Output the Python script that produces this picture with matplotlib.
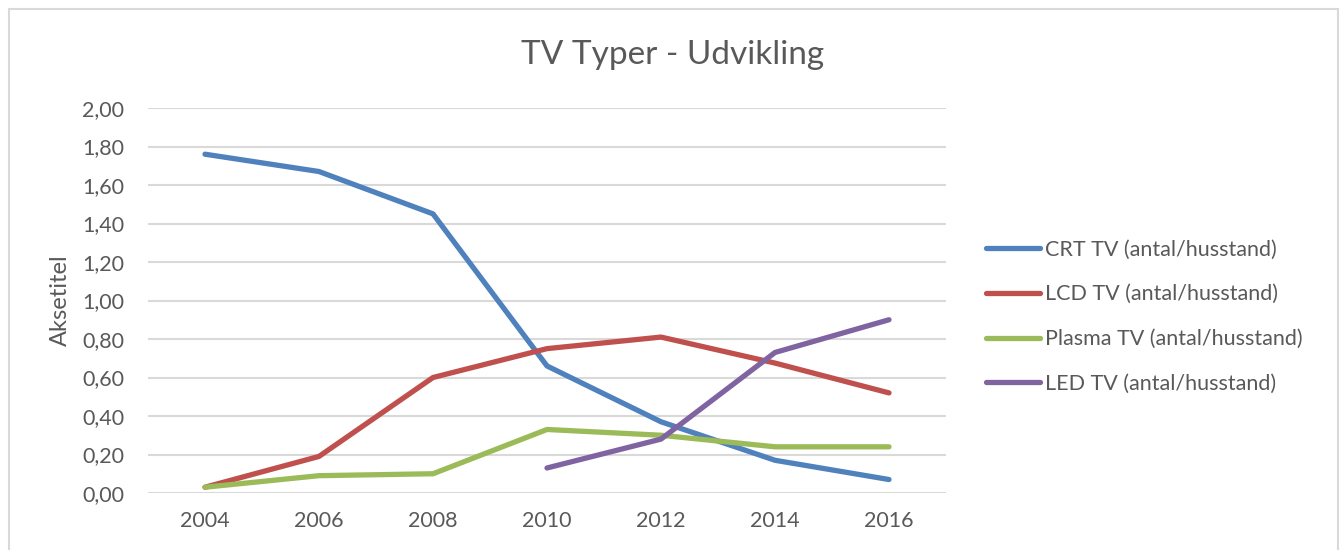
import matplotlib
matplotlib.use("Agg")
import matplotlib.pyplot as plt
from matplotlib.patches import Rectangle
import numpy as np

years = ["2004", "2006", "2008", "2010", "2012", "2014", "2016"]
crt = [1.76, 1.67, 1.45, 0.66, 0.37, 0.17, 0.07]
lcd = [0.03, 0.19, 0.60, 0.75, 0.81, 0.675, 0.52]
plasma = [0.03, 0.09, 0.10, 0.33, 0.30, 0.24, 0.24]
led = [np.nan, np.nan, np.nan, 0.13, 0.28, 0.73, 0.90]
series_names = ["CRT TV (antal/husstand)", "LCD TV (antal/husstand)",
                "Plasma TV (antal/husstand)", "LED TV (antal/husstand)"]
colors = ["#4F81BD", "#C0504D", "#9BBB59", "#8064A2"]
yticks = [0.0, 0.2, 0.4, 0.6, 0.8, 1.0, 1.2, 1.4, 1.6, 1.8, 2.0]

plt.rcParams['font.family'] = ['Lato', 'DejaVu Sans']
txt = "#595959"

fig = plt.figure(figsize=(13.4, 5.5), dpi=100)
# chart border
fig.patches.append(Rectangle((9/1340, -0.05), (1338-9)/1340, 1.05 - 9/550,
                             transform=fig.transFigure, fill=False,
                             edgecolor="#D9D9D9", linewidth=1.5))
ax = fig.add_axes([148/1340, 57/550, (946-148)/1340, (493-108)/550])

x = np.arange(len(years))
for vals, name, c in zip([crt, lcd, plasma, led], series_names, colors):
    ax.plot(x, vals, color=c, linewidth=3.8, label=name,
            solid_capstyle='round', solid_joinstyle='round')

ax.set_xlim(-0.5, len(years) - 0.5)
ax.set_ylim(0, 2.0)
ax.set_yticks(yticks)
ax.set_yticklabels([f"{v:.2f}".replace(".", ",") for v in yticks])
ax.set_xticks(x)
ax.set_xticklabels(years)
ax.tick_params(axis='both', length=0, labelsize=15.5, colors=txt)
ax.tick_params(axis='y', pad=17)
ax.tick_params(axis='x', pad=13)
ax.grid(axis='y', color="#D9D9D9", linewidth=1.5)
ax.set_axisbelow(True)
for s in ax.spines.values():
    s.set_visible(False)

ax.set_ylabel("Aksetitel", fontsize=17, color=txt, labelpad=8)
fig.text(673/1340, 1 - 55/550, "TV Typer - Udvikling", ha='center', va='center',
         fontsize=24, color=txt)

leg = ax.legend(loc='center left', bbox_to_anchor=(1.026, 0.458), frameon=False,
                fontsize=15.5, labelcolor=txt, handlelength=2.5, handletextpad=0.25,
                labelspacing=1.15)

fig.savefig("out.png", dpi=100)
